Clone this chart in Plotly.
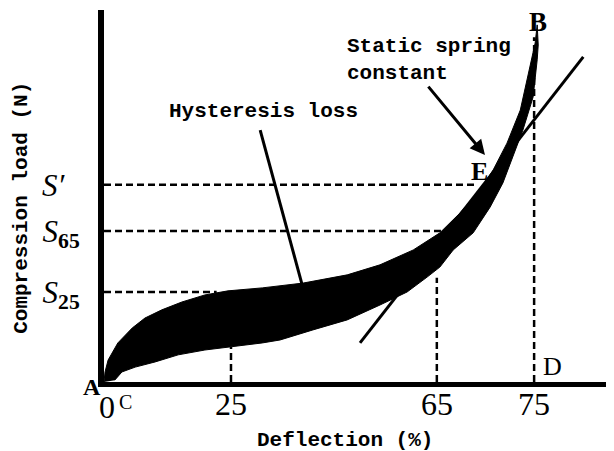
import plotly.graph_objects as go

# ---- data (deflection %, compression load in arbitrary units 0-100) ----
loading_x = [0, 0.2, 0.8, 2.7, 5.5, 8.0, 11.3, 15.2, 19.7, 24.2, 30.9, 38.9, 47.5,
             53.9, 60.4, 65.6, 69.5, 73.4, 76.0, 78.7, 81.3, 83.2, 84.2, 84.6]
loading_y = [0, 2.7, 5.9, 10.5, 14.5, 17.2, 19.4, 21.5, 23.4, 24.5, 25.3, 26.6, 28.8,
             31.5, 35.5, 40.1, 45.4, 51.6, 57.0, 64.2, 73.1, 84.7, 91.1, 96.0]
unloading_x = [84.6, 84.8, 84.6, 83.8, 81.8, 79.9, 77.9, 75.4, 72.1, 68.2, 65.6, 63.1,
               59.2, 53.9, 47.5, 40.8, 34.4, 30.9, 24.2, 19.7, 14.5, 10.0, 6.1, 3.5, 2.1]
unloading_y = [96.0, 90.6, 86.6, 76.6, 67.7, 60.5, 53.5, 47.0, 40.1, 35.5, 30.9, 28.2,
               24.2, 20.7, 16.7, 14.0, 11.3, 10.5, 9.4, 8.6, 7.3, 5.4, 4.0, 2.7, 0.5]

# reference levels and deflections
s_levels = [24.2, 40.6, 53.0]
s_labels = ["<i>S</i><sub><b>25</b></sub>", "<i>S</i><sub><b>65</b></sub>",
            "<i>S′</i>\u00a0\u00a0"]
s_line_end_x = [22.0, 65.8, 72.9]

x_tick_vals = [0, 24.8, 65.0, 84.0]
x_tick_text = ["0", "25", "65", "75"]
v_line_top_y = [None, 9.4, 28.0, 92.7]

tangent_x = [50.0, 93.6]
tangent_y = [10.5, 87.4]
leader_x = [30.5, 38.7]
leader_y = [67.7, 26.1]

fig = go.Figure()

# hysteresis loop (filled)
fig.add_trace(go.Scatter(
    x=loading_x + unloading_x, y=loading_y + unloading_y,
    mode="lines", fill="toself", fillcolor="black",
    line=dict(color="black", width=1), hoverinfo="skip", showlegend=False))

dash = "7px,4px"
# horizontal dashed lines
for lvl, xe in zip(s_levels, s_line_end_x):
    fig.add_trace(go.Scatter(x=[0, xe], y=[lvl, lvl], mode="lines",
                             line=dict(color="black", width=2.5, dash=dash),
                             showlegend=False, hoverinfo="skip"))
# vertical dashed lines
for xv, yt in zip(x_tick_vals[1:], v_line_top_y[1:]):
    fig.add_trace(go.Scatter(x=[xv, xv], y=[0, yt], mode="lines",
                             line=dict(color="black", width=2.5, dash=dash),
                             showlegend=False, hoverinfo="skip"))

# tangent (static spring constant)
fig.add_trace(go.Scatter(x=tangent_x, y=tangent_y, mode="lines",
                         line=dict(color="black", width=3),
                         showlegend=False, hoverinfo="skip"))
# leader for hysteresis loss
fig.add_trace(go.Scatter(x=leader_x, y=leader_y, mode="lines",
                         line=dict(color="black", width=3),
                         showlegend=False, hoverinfo="skip"))

mono = "Liberation Mono, Courier New, monospace"
serif = "Liberation Serif, Times New Roman, serif"

annotations = [
    dict(x=31.1, y=72.6, text="<b>Hysteresis loss</b>", showarrow=False,
         font=dict(family=mono, size=21, color="black")),
    dict(x=47.1, y=86.6, text="<b>Static spring<br>constant</b>", showarrow=False,
         xanchor="left", align="left", font=dict(family=mono, size=21, color="black")),
    dict(x=74.4, y=61.0, ax=63.1, ay=79.8, axref="x", ayref="y", text="",
         showarrow=True, arrowhead=2, arrowsize=1, arrowwidth=3, arrowcolor="black"),
    dict(x=84.8, y=96.8, text="<b>B</b>", showarrow=False,
         font=dict(family=serif, size=27, color="black")),
    dict(x=73.4, y=56.7, text="<b>E</b>", showarrow=False,
         font=dict(family=serif, size=26, color="black")),
    dict(x=87.5, y=4.3, text="D", showarrow=False,
         font=dict(family=serif, size=26, color="black")),
    dict(xref="paper", yref="paper", x=-0.0235, y=-0.0134, xanchor="center", yanchor="middle",
         text="<b>A</b>", showarrow=False,
         font=dict(family=serif, size=24, color="black")),
    dict(xref="paper", yref="paper", x=0.0431, y=-0.0538, xanchor="center", yanchor="middle",
         text="C", showarrow=False,
         font=dict(family=serif, size=20, color="black")),
    dict(xref="paper", yref="paper", x=-0.161, y=0.468, xanchor="center", yanchor="middle",
         text="<b>Compression load (N)</b>",
         textangle=-90, showarrow=False, font=dict(family=mono, size=21, color="black")),
    dict(xref="paper", yref="paper", x=0.4725, y=-0.156, xanchor="center", yanchor="middle",
         text="<b>Deflection (%)</b>",
         showarrow=False, font=dict(family=mono, size=21, color="black")),
]
# x tick labels placed just under the axis
for xv, tt in zip(x_tick_vals, x_tick_text):
    annotations.append(dict(x=xv + (0.6 if tt == "0" else 0), y=0, yref="y",
                            yshift=-22 if tt != "0" else -25,
                            text=tt, showarrow=False,
                            font=dict(family=serif, size=32, color="black")))

# the page body adds an 8px margin, so the figure is sized to fit the 614x451 window
fig.update_layout(
    width=606, height=443,
    margin=dict(l=96, r=0, t=2, b=69, autoexpand=False),
    paper_bgcolor="white", plot_bgcolor="white",
    showlegend=False,
    annotations=annotations,
    xaxis=dict(range=[0, 99.6], showgrid=False, zeroline=False, automargin=False,
               showline=True, linewidth=5, linecolor="black",
               showticklabels=False, ticks=""),
    yaxis=dict(range=[0, 100], showgrid=False, zeroline=False, automargin=False,
               showline=True, linewidth=6, linecolor="black",
               tickmode="array", tickvals=s_levels, ticktext=s_labels,
               ticks="", ticklabelstandoff=12,
               tickfont=dict(family=serif, size=31, color="black")),
)

fig.write_html("out.html")
